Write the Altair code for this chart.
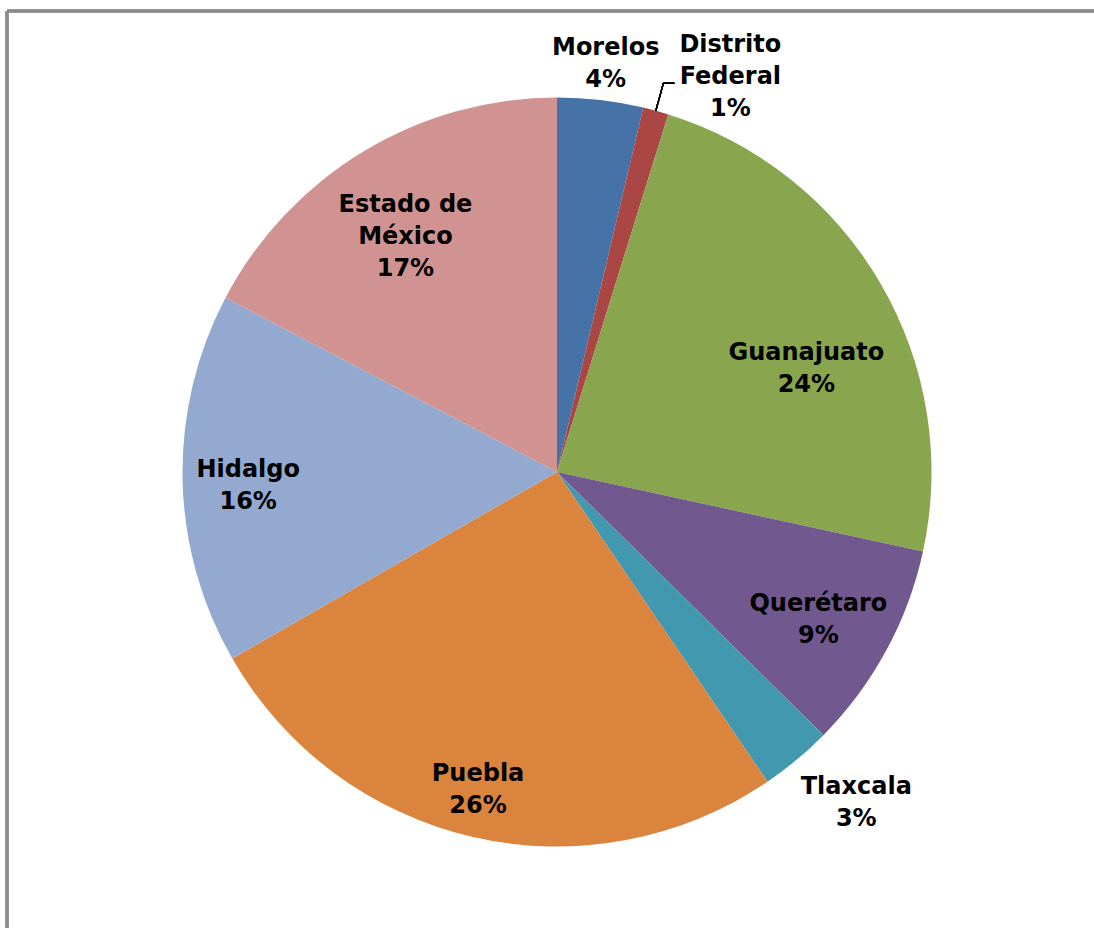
import math
import altair as alt
import pandas as pd

# ---- data ----
states = ["Morelos", "Distrito Federal", "Guanajuato", "Querétaro",
          "Tlaxcala", "Puebla", "Hidalgo", "Estado de México"]
label_names = ["Morelos", "Distrito\nFederal", "Guanajuato", "Querétaro",
               "Tlaxcala", "Puebla", "Hidalgo", "Estado de\nMéxico"]
values = [3.7, 1.1, 23.6, 9.0, 3.1, 26.2, 16.0, 17.3]
colors = ["#4572A7", "#AA4643", "#89A54E", "#71588F",
          "#4198AF", "#DB843D", "#93A9CF", "#D19392"]

# ---- label placement (style, not data) ----
label_angle_offset_deg = [0.1, 8.3, 7.2, 0.6, -2.6, 1.1, -0.9, -1.5]
label_radius = [414, 433, 271, 299, 444, 325, 309, 281]

W, H = 1074, 912
PAD_L, PAD_T = 20, 16
R = 374.5
cx, cy = W / 2, H / 2

total = sum(values)
mids = []
acc = 0.0
for v in values:
    mids.append((acc + v / 2) / total * 2 * math.pi)
    acc += v

labels_txt = [f"{n}\n{round(v)}%" for n, v in zip(label_names, values)]
df = pd.DataFrame({
    "state": states,
    "value": values,
    "order": list(range(len(states))),
    "label": labels_txt,
    "nlines": [t.count("\n") + 1 for t in labels_txt],
    "ltheta": [m + math.radians(o) for m, o in zip(mids, label_angle_offset_deg)],
    "lradius": label_radius,
})

pie = alt.Chart(df).mark_arc(outerRadius=R, stroke=None).encode(
    theta=alt.Theta("value:Q", stack=True),
    order=alt.Order("order:Q"),
    color=alt.Color("state:N", scale=alt.Scale(domain=states, range=colors), legend=None),
)


def label_layer(n, dy):
    return alt.Chart(df).transform_filter(alt.datum.nlines == n).mark_text(
        font="DejaVu Sans", fontWeight="bold", fontSize=24, lineBreak="\n",
        lineHeight=32, align="center", baseline="middle", color="#000000", dy=dy,
    ).encode(
        theta=alt.Theta("ltheta:Q", scale=None),
        radius=alt.Radius("lradius:Q", scale=None),
        text="label:N",
    )


labels2 = label_layer(2, -13)
labels3 = label_layer(3, -30)

# leader line for Distrito Federal (radial segment then short horizontal)
i_df = states.index("Distrito Federal")
a = mids[i_df]
x0, y0 = cx + R * math.sin(a), cy - R * math.cos(a)
r1 = 403
x1, y1 = cx + r1 * math.sin(a), cy - r1 * math.cos(a)
leader1 = alt.Chart(df).mark_rule(color="#000000", strokeWidth=1.2).encode(
    x=alt.value(x0), y=alt.value(y0), x2=alt.value(x1), y2=alt.value(y1))
leader2 = alt.Chart(df).mark_rule(color="#000000", strokeWidth=1.2).encode(
    x=alt.value(x1), y=alt.value(y1), x2=alt.value(x1 + 11), y2=alt.value(y1))

# outer frame
border_top = alt.Chart(df).mark_rule(color="#8c8c8c", strokeWidth=2.5).encode(
    x=alt.value(7 - PAD_L), x2=alt.value(W + 5), y=alt.value(11 - PAD_T))
border_left = alt.Chart(df).mark_rule(color="#8c8c8c", strokeWidth=2.5).encode(
    x=alt.value(7 - PAD_L), y=alt.value(11 - PAD_T), y2=alt.value(H + 5))

chart = alt.layer(pie, leader1, leader2, labels2, labels3, border_top, border_left).properties(
    width=W, height=H,
    autosize=alt.AutoSizeParams(type="none"),
    padding={"left": PAD_L, "top": PAD_T, "right": 0, "bottom": 0},
    background="#ffffff",
).configure_view(stroke=None)

chart.save("out.html", embed_options={"renderer": "svg", "actions": False})
